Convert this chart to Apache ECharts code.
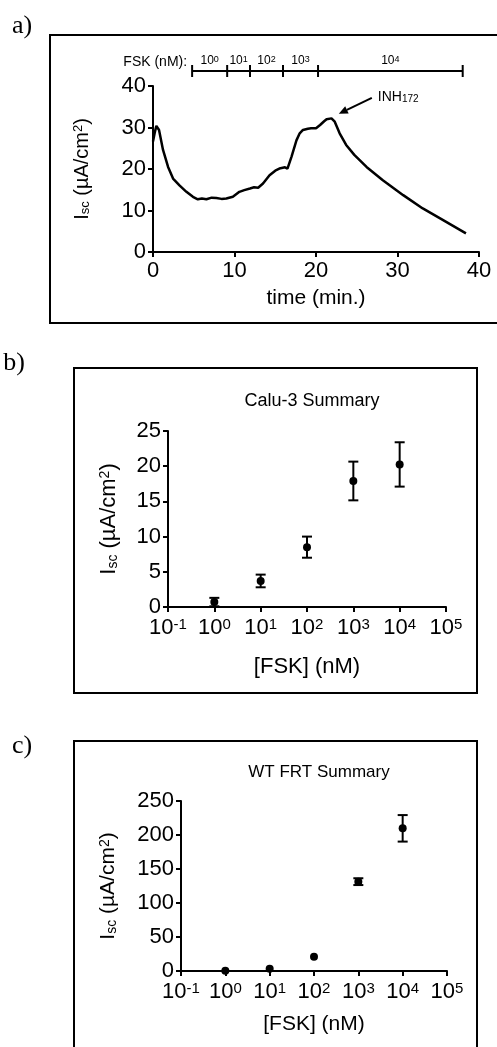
<!DOCTYPE html>
<html>
<head>
<meta charset="utf-8">
<script src="https://cdn.jsdelivr.net/npm/echarts@6/dist/echarts.min.js"></script>
<style>
html,body{margin:0;padding:0;background:#fff;}
#chart{width:497px;height:1047px;}
</style>
</head>
<body>
<div id="chart"></div>
<script>
// Panel a: short-circuit current trace
var timeMin = [0, 0.2, 0.41, 0.74, 1.23, 1.85, 2.46, 3.28, 4.1, 4.9, 5.5, 6.0, 6.55, 7.2, 7.78, 8.4, 9.0, 9.8, 10.6, 11.2, 11.9, 12.4, 12.9, 13.5, 14.3, 15.0, 15.5, 16.2, 16.5, 17.0, 17.6, 18.0, 18.4, 19.0, 19.4, 20.0, 20.5, 21.0, 21.3, 21.9, 22.3, 22.9, 23.7, 24.7, 26.2, 28.2, 30.7, 33.1, 35.6, 38.4];
var iscTrace = [26.6, 28.6, 30.4, 29.4, 24.6, 20.5, 17.7, 16.0, 14.5, 13.3, 12.7, 12.9, 12.7, 13.1, 13.0, 12.8, 12.9, 13.3, 14.5, 14.9, 15.3, 15.6, 15.5, 16.5, 18.5, 19.6, 20.1, 20.4, 20.1, 23.0, 26.9, 28.6, 29.4, 29.7, 29.8, 29.8, 30.6, 31.5, 32.0, 32.2, 31.4, 28.6, 25.8, 23.4, 20.5, 17.3, 13.7, 10.5, 7.7, 4.5];
var fskEdges = [4.8, 9.1, 11.9, 15.95, 20.25, 38.0];
var fskExponents = ['0', '1', '2', '3', '4'];
var inhTip = [22.8, 33.3];
var xTicksA = [0, 10, 20, 30, 40];

// Panel b: Calu-3 summary
var fskConc = [1, 10, 100, 1000, 10000];
var caluMean = [0.7, 3.7, 8.5, 17.9, 20.25];
var caluErr = [0.6, 0.9, 1.5, 2.75, 3.15];

// Panel c: WT FRT summary
var frtMean = [0.5, 3.4, 21, 131.4, 209.8];
var frtErr = [0, 0, 0, 5, 19.5];

var FONT = 'Liberation Sans';
var BLACK = '#000';

function supRich(size) {
  return {
    sup: {fontSize: size, fontFamily: FONT, color: BLACK, verticalAlign: 'top', lineHeight: size},
    sub: {fontSize: size, fontFamily: FONT, color: BLACK, verticalAlign: 'bottom', lineHeight: size}
  };
}

function baseAxis(grid, extra) {
  var ax = {
    gridIndex: grid,
    axisLine: {show: true, onZero: false, lineStyle: {color: BLACK, width: 2}},
    axisTick: {show: true, inside: false, length: 5, lineStyle: {color: BLACK, width: 2}},
    splitLine: {show: false},
    axisLabel: {color: BLACK, fontFamily: FONT, fontSize: 22, margin: 7},
    nameLocation: 'middle',
    nameTextStyle: {color: BLACK, fontFamily: FONT, fontSize: 21}
  };
  for (var k in extra) ax[k] = extra[k];
  return ax;
}

function logFormatter(v) {
  var e = Math.round(Math.log10(v));
  return '10{sup|' + e + '}';
}

var yName = 'I{sub|sc} (µA/cm{sup|2})';

function errRender(params, api) {
  var x = api.value(0), y = api.value(1), e = api.value(2);
  if (!e) return {type: 'group', children: []};
  var top = api.coord([x, y + e]);
  var bot = api.coord([x, y - e]);
  var hw = 5;
  var st = {stroke: BLACK, lineWidth: 2};
  return {
    type: 'group',
    children: [
      {type: 'line', shape: {x1: top[0], y1: top[1], x2: bot[0], y2: bot[1]}, style: st},
      {type: 'line', shape: {x1: top[0] - hw, y1: top[1], x2: top[0] + hw, y2: top[1]}, style: st},
      {type: 'line', shape: {x1: bot[0] - hw, y1: bot[1], x2: bot[0] + hw, y2: bot[1]}, style: st}
    ]
  };
}

function fskRender(params, api) {
  var i = params.dataIndex;
  var p = api.coord([api.value(0), 40]);
  var yb = p[1] - 15;
  var st = {stroke: BLACK, lineWidth: 2};
  var children = [
    {type: 'line', shape: {x1: p[0], y1: yb - 6, x2: p[0], y2: yb + 6}, style: st}
  ];
  if (i < fskEdges.length - 1) {
    var q = api.coord([fskEdges[i + 1], 40]);
    children.push({type: 'line', shape: {x1: p[0], y1: yb, x2: q[0], y2: yb}, style: st});
    children.push({
      type: 'text',
      style: {
        text: '10{s|' + fskExponents[i] + '}',
        x: (p[0] + q[0]) / 2, y: yb - 4,
        align: 'center', verticalAlign: 'bottom',
        fill: BLACK, fontFamily: FONT, fontSize: 12,
        rich: {s: {fontSize: 9, fontFamily: FONT, fill: BLACK, verticalAlign: 'top', lineHeight: 9}}
      }
    });
  } else {
    children.push({
      type: 'text',
      style: {
        text: 'FSK (nM):',
        x: api.coord([fskEdges[0], 40])[0] - 5, y: yb - 9,
        align: 'right', verticalAlign: 'middle',
        fill: BLACK, fontFamily: FONT, fontSize: 14
      }
    });
  }
  return {type: 'group', children: children};
}

function inhRender(params, api) {
  var tip = api.coord([api.value(0), api.value(1)]);
  var sx = tip[0] + 33, sy = tip[1] - 16;
  var ang = Math.atan2(sy - tip[1], sx - tip[0]);
  var L = 9, W = 4;
  var bx = tip[0] + L * Math.cos(ang), by = tip[1] + L * Math.sin(ang);
  var nx = -Math.sin(ang) * W, ny = Math.cos(ang) * W;
  return {
    type: 'group',
    children: [
      {type: 'line', shape: {x1: sx, y1: sy, x2: bx, y2: by}, style: {stroke: BLACK, lineWidth: 2}},
      {type: 'polygon', shape: {points: [[tip[0], tip[1]], [bx + nx, by + ny], [bx - nx, by - ny]]}, style: {fill: BLACK}},
      {type: 'text', style: {
        text: 'INH{s|172}', x: sx + 6, y: sy - 1, align: 'left', verticalAlign: 'middle',
        fill: BLACK, fontFamily: FONT, fontSize: 14,
        rich: {s: {fontSize: 10, fontFamily: FONT, fill: BLACK, verticalAlign: 'bottom', lineHeight: 10}}
      }}
    ]
  };
}

var chart = echarts.init(document.getElementById('chart'), null, {renderer: 'canvas'});

var option = {
  animation: false,
  backgroundColor: '#fff',
  textStyle: {fontFamily: FONT, color: BLACK},
  grid: [
    {left: 153, top: 86, width: 326, height: 166},
    {left: 168, top: 431, width: 278, height: 176},
    {left: 181, top: 801, width: 266, height: 170}
  ],
  title: [
    {text: 'Calu-3 Summary', left: 307, top: 396, textAlign: 'center', textVerticalAlign: 'middle',
     textStyle: {fontFamily: FONT, fontSize: 18, fontWeight: 'normal', color: BLACK}},
    {text: 'WT FRT Summary', left: 314, top: 767, textAlign: 'center', textVerticalAlign: 'middle',
     textStyle: {fontFamily: FONT, fontSize: 17, fontWeight: 'normal', color: BLACK}}
  ],
  xAxis: [
    baseAxis(0, {type: 'value', min: 0, max: 40, interval: 10, name: 'time (min.)', nameGap: 36,
      axisLabel: {color: BLACK, fontFamily: FONT, fontSize: 22, margin: 8}}),
    baseAxis(1, {type: 'log', logBase: 10, min: 0.1, max: 100000, interval: 1, splitNumber: 6,
      name: '[FSK] (nM)', nameGap: 49, nameTextStyle: {color: BLACK, fontFamily: FONT, fontSize: 22},
      axisLabel: {color: BLACK, fontFamily: FONT, fontSize: 22, margin: 10, interval: 0, formatter: logFormatter, rich: supRich(15)}}),
    baseAxis(2, {type: 'log', logBase: 10, min: 0.1, max: 100000, interval: 1, splitNumber: 6,
      name: '[FSK] (nM)', nameGap: 43, nameTextStyle: {color: BLACK, fontFamily: FONT, fontSize: 21},
      axisLabel: {color: BLACK, fontFamily: FONT, fontSize: 22, margin: 10, interval: 0, formatter: logFormatter, rich: supRich(15)}})
  ],
  yAxis: [
    baseAxis(0, {type: 'value', min: 0, max: 40, interval: 10, name: yName, nameRotate: 90, nameGap: 61,
      nameTextStyle: {color: BLACK, fontFamily: FONT, fontSize: 20, rich: supRich(13)}}),
    baseAxis(1, {type: 'value', min: 0, max: 25, interval: 5, name: yName, nameRotate: 90, nameGap: 48,
      nameTextStyle: {color: BLACK, fontFamily: FONT, fontSize: 22, rich: supRich(14)}}),
    baseAxis(2, {type: 'value', min: 0, max: 250, interval: 50, name: yName, nameRotate: 90, nameGap: 62,
      nameTextStyle: {color: BLACK, fontFamily: FONT, fontSize: 21, rich: supRich(14)}})
  ],
  series: [
    {type: 'line', xAxisIndex: 0, yAxisIndex: 0, showSymbol: false, smooth: false,
     lineStyle: {color: BLACK, width: 2.5},
     data: timeMin.map(function (t, i) { return [t, iscTrace[i]]; })},
    {type: 'custom', xAxisIndex: 0, yAxisIndex: 0, clip: false, renderItem: fskRender,
     data: fskEdges.map(function (t) { return [t, 40]; })},
    {type: 'custom', xAxisIndex: 0, yAxisIndex: 0, clip: false, renderItem: inhRender,
     data: [inhTip]},
    {type: 'custom', xAxisIndex: 1, yAxisIndex: 1, clip: false, renderItem: errRender,
     data: fskConc.map(function (c, i) { return [c, caluMean[i], caluErr[i]]; })},
    {type: 'scatter', xAxisIndex: 1, yAxisIndex: 1, symbol: 'circle', symbolSize: 8,
     itemStyle: {color: BLACK, opacity: 1}, clip: false,
     data: fskConc.map(function (c, i) { return [c, caluMean[i]]; })},
    {type: 'custom', xAxisIndex: 2, yAxisIndex: 2, clip: false, renderItem: errRender,
     data: fskConc.map(function (c, i) { return [c, frtMean[i], frtErr[i]]; })},
    {type: 'scatter', xAxisIndex: 2, yAxisIndex: 2, symbol: 'circle', symbolSize: 8,
     itemStyle: {color: BLACK, opacity: 1}, clip: false,
     data: fskConc.map(function (c, i) { return [c, frtMean[i]]; })}
  ],
  graphic: [
    {type: 'rect', shape: {x: 50, y: 35, width: 470, height: 288}, style: {fill: 'none', stroke: BLACK, lineWidth: 2}, z: 0},
    {type: 'rect', shape: {x: 74, y: 368, width: 403, height: 325}, style: {fill: 'none', stroke: BLACK, lineWidth: 2}, z: 0},
    {type: 'rect', shape: {x: 74, y: 741, width: 403, height: 330}, style: {fill: 'none', stroke: BLACK, lineWidth: 2}, z: 0},
    {type: 'text', style: {text: 'a)', x: 22, y: 26, align: 'center', verticalAlign: 'middle', fill: BLACK, fontFamily: 'Liberation Serif', fontSize: 26}},
    {type: 'text', style: {text: 'b)', x: 14, y: 363, align: 'center', verticalAlign: 'middle', fill: BLACK, fontFamily: 'Liberation Serif', fontSize: 26}},
    {type: 'text', style: {text: 'c)', x: 22, y: 746, align: 'center', verticalAlign: 'middle', fill: BLACK, fontFamily: 'Liberation Serif', fontSize: 26}}
  ]
};
chart.setOption(option);
</script>
</body>
</html>
